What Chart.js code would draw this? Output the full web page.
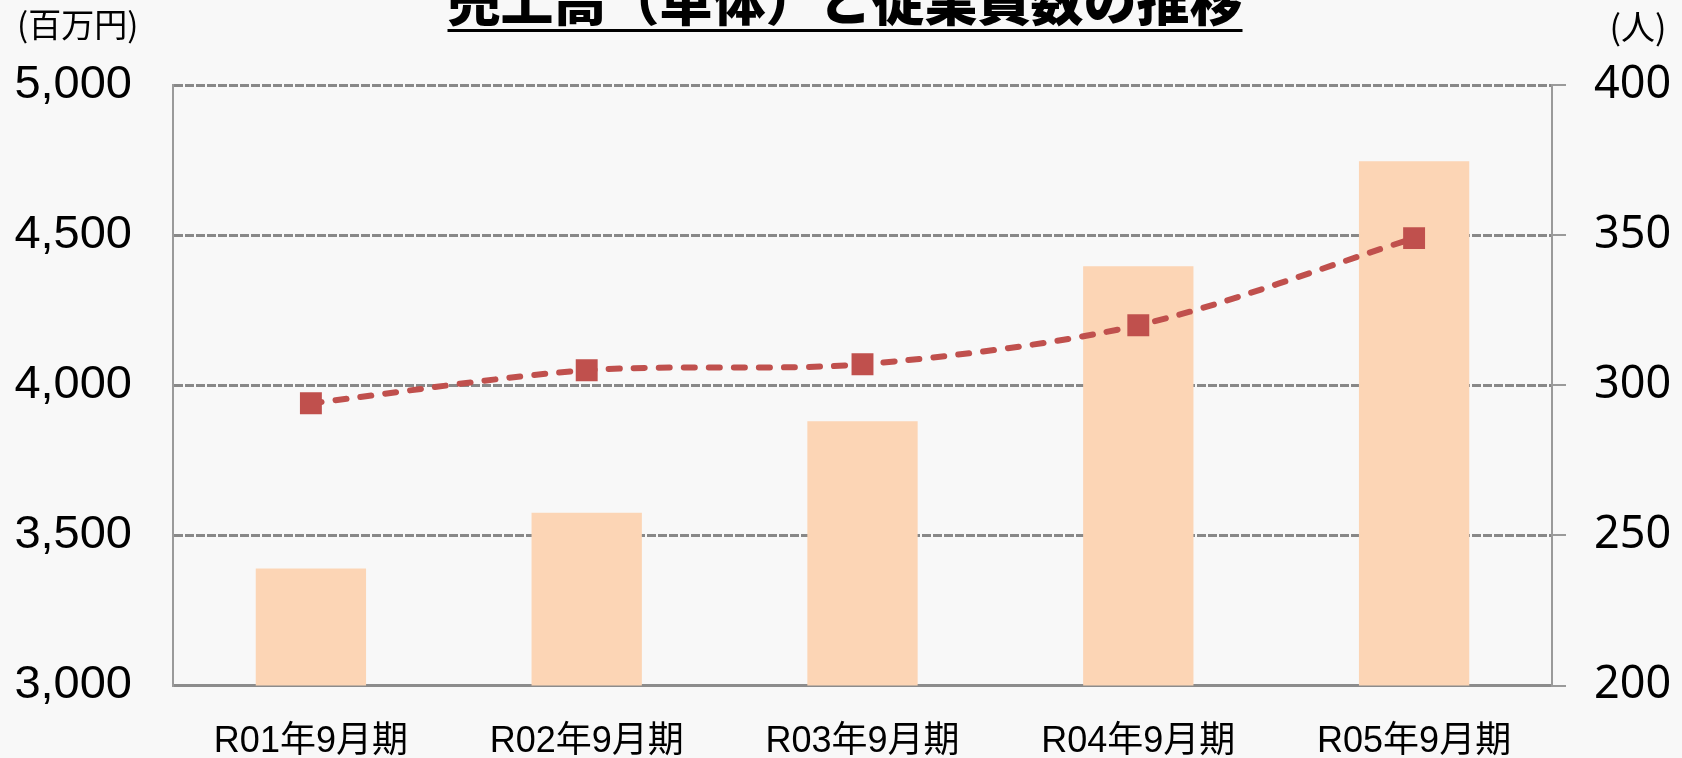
<!DOCTYPE html>
<html>
<head>
<meta charset="utf-8">
<script src="https://cdn.jsdelivr.net/npm/chart.js@4"></script>
<style>
  html, body { margin: 0; padding: 0; background: #f8f8f8; }
  #wrap { position: relative; width: 1682px; height: 758px; overflow: hidden; }
  canvas { display: block; }
</style>
</head>
<body>
<div id="wrap"><canvas id="c" width="1682" height="758"></canvas></div>
<script>
const categories = ['R01年9月期', 'R02年9月期', 'R03年9月期', 'R04年9月期', 'R05年9月期'];
const salesValues = [3390, 3575, 3880, 4396, 4746];
const employeeValues = [294, 305, 307, 320, 349];
const leftTicks = [3000, 3500, 4000, 4500, 5000];
const rightTicks = [200, 250, 300, 350, 400];
const titleText = '売上高（単体）と従業員数の推移';
const leftUnit = '(百万円)';
const rightUnit = '(人)';

const decorPlugin = {
  id: 'decor',
  beforeDraw(chart) {
    const ctx = chart.ctx;
    ctx.save();
    ctx.fillStyle = '#f8f8f8';
    ctx.fillRect(0, 0, chart.width, chart.height);
    ctx.restore();
  },
  afterDraw(chart) {
    const ctx = chart.ctx;
    ctx.save();
    // title
    ctx.font = '900 53px "Noto Sans CJK JP", sans-serif';
    ctx.fillStyle = '#000';
    ctx.textAlign = 'center';
    ctx.textBaseline = 'alphabetic';
    const cx = 845;
    ctx.fillText(titleText, cx, 21);
    const w = ctx.measureText(titleText).width;
    ctx.fillRect(cx - w / 2, 29, w, 3);
    // units
    ctx.font = '33px "Noto Sans CJK JP", sans-serif';
    ctx.textAlign = 'left';
    ctx.textBaseline = 'middle';
    ctx.fillText(leftUnit, 17, 24);
    ctx.textAlign = 'center';
    ctx.font = '34px "Noto Sans CJK JP", sans-serif';
    ctx.fillText(rightUnit, 1638, 27);
    ctx.restore();
  }
};

new Chart(document.getElementById('c'), {
  type: 'bar',
  data: {
    labels: categories,
    datasets: [
      {
        type: 'line',
        label: '従業員数',
        data: employeeValues,
        yAxisID: 'y1',
        borderColor: '#C0504D',
        backgroundColor: '#C0504D',
        borderWidth: 6,
        borderDash: [11, 14],
        borderCapStyle: 'round',
        tension: 0.3,
        pointStyle: 'rect',
        pointRadius: 15.5,
        pointHoverRadius: 15.5,
        pointBackgroundColor: '#C0504D',
        pointBorderColor: '#C0504D',
        pointBorderWidth: 0,
        order: 0
      },
      {
        type: 'bar',
        label: '売上高',
        data: salesValues,
        yAxisID: 'y',
        backgroundColor: '#FCD5B5',
        borderWidth: 0,
        categoryPercentage: 1,
        barPercentage: 0.4,
        order: 1
      }
    ]
  },
  options: {
    responsive: false,
    animation: false,
    events: [],
    layout: { padding: { top: 85, left: 0, right: 0, bottom: 0 } },
    plugins: { legend: { display: false }, tooltip: { enabled: false }, title: { display: false } },
    scales: {
      x: {
        offset: true,
        grid: { display: false, drawTicks: false },
        border: { display: true, color: '#8c8c8c', width: 3 },
        ticks: {
          color: '#000',
          padding: 35,
          maxRotation: 0,
          autoSkip: false,
          font: { family: '"Liberation Sans", "Noto Sans CJK JP", sans-serif', size: 36 }
        },
        afterFit(scale) { scale.height = 72.5; }
      },
      y: {
        position: 'left',
        min: leftTicks[0],
        max: leftTicks[leftTicks.length - 1],
        afterBuildTicks(scale) { scale.ticks = leftTicks.map(v => ({ value: v })); },
        grid: { color: '#888888', lineWidth: 3, drawTicks: false },
        border: { display: true, color: '#9a9a9a', width: 2, dash: [9, 2] },
        ticks: {
          color: '#000',
          padding: 41,
          font: { family: '"Liberation Sans", Arial, sans-serif', size: 47 },
          callback: v => v.toLocaleString('en-US')
        },
        afterFit(scale) { scale.width = 173; }
      },
      y1: {
        position: 'right',
        min: rightTicks[0],
        max: rightTicks[rightTicks.length - 1],
        afterBuildTicks(scale) { scale.ticks = rightTicks.map(v => ({ value: v })); },
        grid: { drawOnChartArea: false, drawTicks: true, tickLength: 14, color: '#9a9a9a', lineWidth: 2 },
        border: { display: true, color: '#9a9a9a', width: 2 },
        ticks: {
          color: '#000',
          padding: 28,
          font: { family: '"Noto Sans", sans-serif', size: 45 }
        },
        afterFit(scale) { scale.width = 130; }
      }
    }
  },
  plugins: [decorPlugin]
});
</script>
</body>
</html>
